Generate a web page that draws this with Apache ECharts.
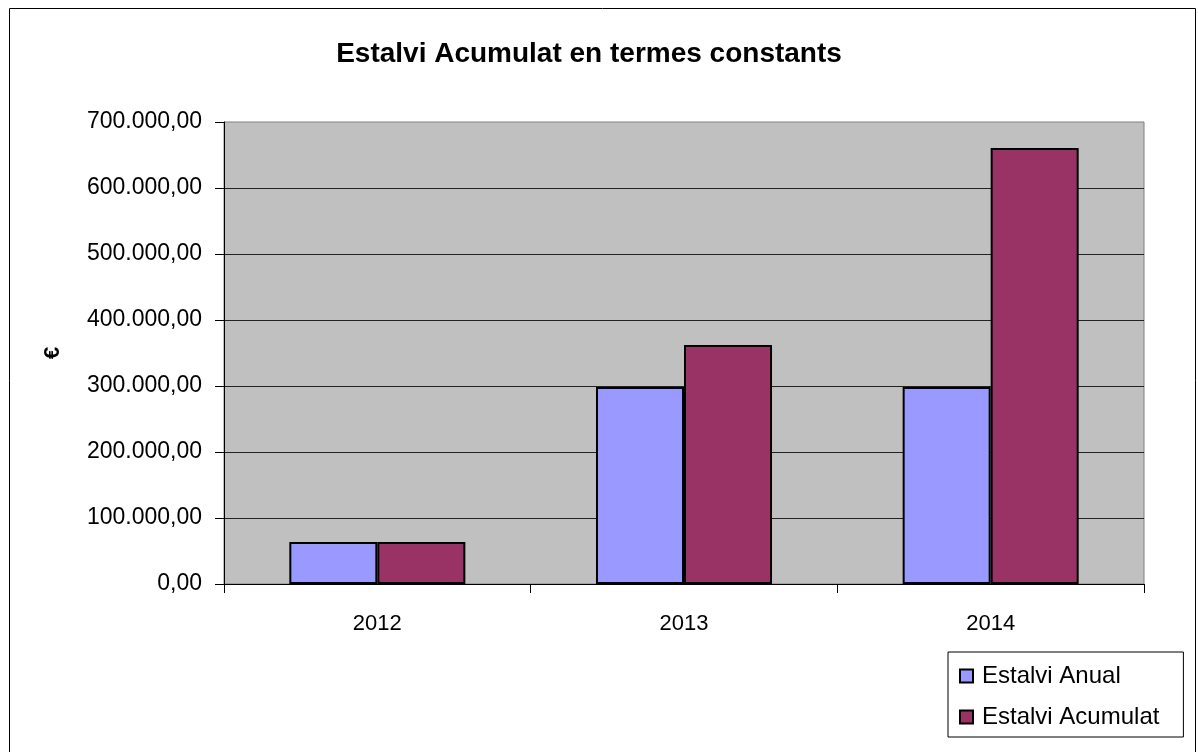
<!DOCTYPE html>
<html>
<head>
<meta charset="utf-8">
<script src="https://cdn.jsdelivr.net/npm/echarts@6/dist/echarts.min.js"></script>
<style>
  html, body { margin: 0; padding: 0; background: #fff; }
  #chart { width: 1198px; height: 752px; }
</style>
</head>
<body>
<div id="chart"></div>
<script>
var years = ['2012', '2013', '2014'];
var estalviAnual = [63500, 298500, 298500];
var estalviAcumulat = [63500, 362000, 660500];

function fmt(v) {
  var s = Math.round(v).toString().replace(/\B(?=(\d{3})+(?!\d))/g, '.');
  return s + ',00';
}

var myChart = echarts.init(document.getElementById('chart'));

var option = {
  animation: false,
  textStyle: { fontFamily: 'Liberation Sans, Arial, sans-serif' },
  graphic: [{
    type: 'rect',
    shape: { x: 9.5, y: 8.5, width: 1186, height: 760 },
    style: { fill: null, stroke: '#000', lineWidth: 1 },
    silent: true
  }],
  title: {
    text: 'Estalvi Acumulat en termes constants',
    left: 584, top: 35, textAlign: 'center',
    textStyle: { fontSize: 28, fontWeight: 'bold', color: '#000' }
  },
  legend: {
    orient: 'vertical',
    left: 948, top: 652,
    padding: [12, 24, 8, 11],
    itemGap: 17,
    itemWidth: 13, itemHeight: 13,
    icon: 'rect',
    borderColor: '#000', borderWidth: 1,
    textStyle: { fontSize: 24, color: '#000', padding: [0, 0, 0, 4] },
    data: ['Estalvi Anual', 'Estalvi Acumulat']
  },
  grid: { left: 224, right: 54, top: 122, bottom: 168, show: true, backgroundColor: '#C0C0C0', borderColor: '#808080', borderWidth: 1 },
  xAxis: {
    type: 'category',
    data: years,
    axisLine: { lineStyle: { color: '#000', width: 1 } },
    axisTick: { show: true, length: 9, lineStyle: { color: '#000' } },
    axisLabel: { fontSize: 22, color: '#000', margin: 29 }
  },
  yAxis: {
    type: 'value',
    min: 0, max: 700000, interval: 100000,
    name: '€',
    nameLocation: 'middle',
    nameGap: 160,
    nameRotate: 90,
    nameTextStyle: { fontSize: 22, fontWeight: 'bold', color: '#000' },
    axisLine: { show: true, lineStyle: { color: '#000' } },
    axisTick: { show: true, length: 9, lineStyle: { color: '#000' } },
    axisLabel: { fontSize: 23, color: '#000', margin: 22, formatter: fmt },
    splitLine: { showMaxLine: false, lineStyle: { color: '#222', width: 1 } }
  },
  series: [
    {
      name: 'Estalvi Anual', type: 'bar', data: estalviAnual,
      barGap: '0%', barCategoryGap: '42.6%',
      itemStyle: { color: '#9999FF', borderColor: '#000', borderWidth: 2 }
    },
    {
      name: 'Estalvi Acumulat', type: 'bar', data: estalviAcumulat,
      barGap: '0%', barCategoryGap: '42.6%',
      itemStyle: { color: '#993366', borderColor: '#000', borderWidth: 2 }
    }
  ]
};

myChart.setOption(option);
</script>
</body>
</html>
